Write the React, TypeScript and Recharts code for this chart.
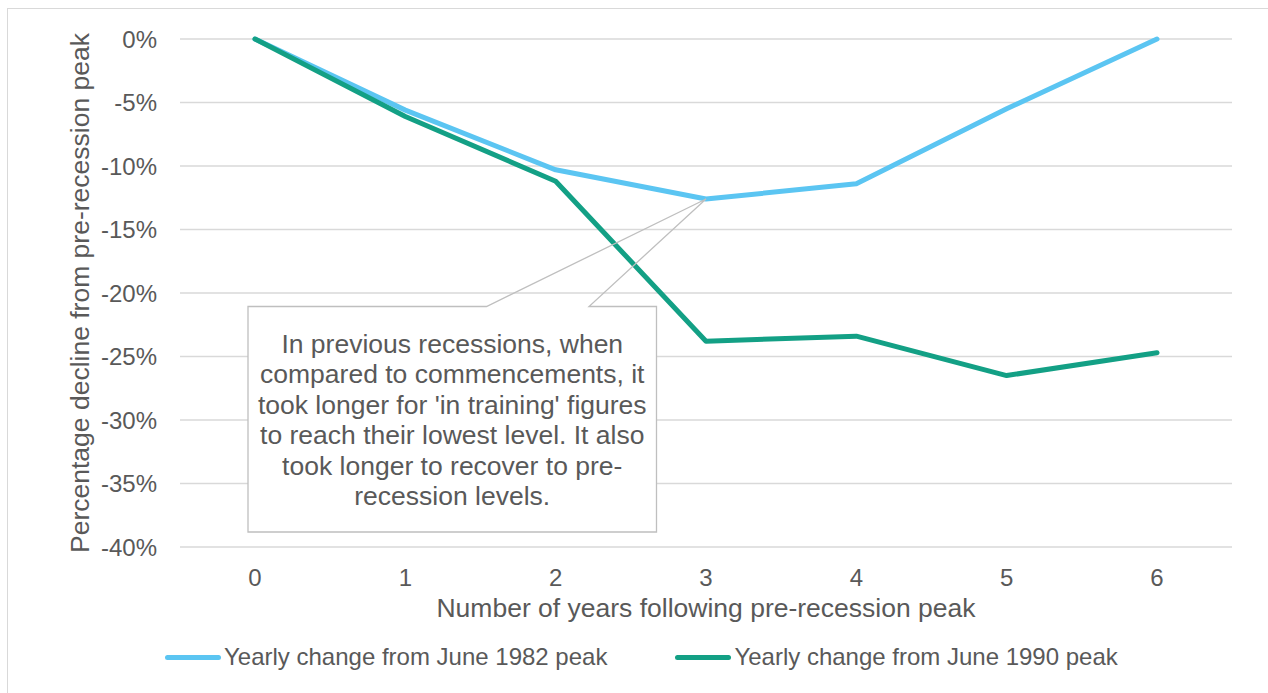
import { LineChart, Line, XAxis, YAxis, CartesianGrid, Legend, ReferenceDot } from 'recharts';

const years = [0, 1, 2, 3, 4, 5, 6];
const change1982 = [0, -5.6, -10.3, -12.6, -11.4, -5.5, 0];
const change1990 = [0, -6.1, -11.2, -23.8, -23.4, -26.5, -24.7];
const yTicks = [0, -5, -10, -15, -20, -25, -30, -35, -40];

const seriesNames = ['Yearly change from June 1982 peak', 'Yearly change from June 1990 peak'];
const seriesColors = ['#5BC5F2', '#13A085'];

const calloutLines = [
  'In previous recessions, when',
  'compared to commencements, it',
  "took longer for 'in training' figures",
  'to reach their lowest level. It also',
  'took longer to recover to pre-',
  'recession levels.',
];

const data = years.map((y, i) => ({ year: y, s1982: change1982[i], s1990: change1990[i] }));

const FONT = '"Liberation Sans", Arial, sans-serif';
const TEXT = '#595959';

// callout box with a wedge pointing at the 1982 low point
function Callout(props: any) {
  const { cx, cy } = props;
  const left = 248;
  const top = 306.5;
  const right = 656.5;
  const bottom = 532;
  const wl = 486.5;
  const wr = 589;
  return (
    <g>
      <rect x={left} y={top} width={right - left} height={bottom - top} fill="#fff" stroke="none" />
      <path
        d={`M${wl},${top} L${left},${top} L${left},${bottom} L${right},${bottom} L${right},${top} L${wr},${top} L${cx},${cy} Z`}
        fill="none"
        stroke="#BFBFBF"
        strokeWidth={1.3}
        strokeLinejoin="miter"
      />
      <text x={(left + right) / 2} y={353} textAnchor="middle" fontFamily={FONT} fontSize={26.5} fill={TEXT}>
        {calloutLines.map((l, i) => (
          <tspan key={i} x={(left + right) / 2} y={353 + i * 30.4}>
            {l}
          </tspan>
        ))}
      </text>
    </g>
  );
}

function LegendContent() {
  return (
    <div style={{ display: 'flex', alignItems: 'center', height: 30, paddingLeft: 95, fontFamily: FONT, fontSize: 24, color: TEXT }}>
      {seriesNames.map((name, i) => (
        <div key={name} style={{ display: 'flex', alignItems: 'center', marginRight: 68 }}>
          <div style={{ width: 56, height: 5, borderRadius: 3, background: seriesColors[i], marginRight: 3 }} />
          <span style={{ whiteSpace: 'nowrap' }}>{name}</span>
        </div>
      ))}
    </div>
  );
}

export default function App() {
  return (
    <div style={{ position: 'fixed', left: 0, top: 0, width: 1268, height: 693, overflow: 'hidden', background: '#fff' }}>
      <div style={{ position: 'absolute', left: 7, top: 8, width: 1400, height: 800, border: '1.5px solid #D9D9D9' }} />
      <div style={{ position: 'absolute', left: 0, top: 0 }}>
        <LineChart width={1268} height={693} data={data} margin={{ top: 39, right: 36, left: 70, bottom: 21 }}>
          <CartesianGrid horizontal vertical={false} stroke="#D9D9D9" strokeWidth={1.5} />
          <XAxis
            dataKey="year"
            type="category"
            height={95}
            padding={{ left: 75, right: 75 }}
            axisLine={false}
            tickLine={false}
            tickSize={0}
            tickMargin={22}
            tick={{ fontSize: 24, fill: TEXT, fontFamily: FONT }}
            label={{
              value: 'Number of years following pre-recession peak',
              position: 'insideBottom',
              offset: 25,
              style: { fontSize: 26.5, fill: TEXT, fontFamily: FONT },
            }}
          />
          <YAxis
            width={110}
            domain={[-40, 0]}
            ticks={yTicks}
            interval={0}
            axisLine={false}
            tickLine={false}
            tickSize={0}
            tickMargin={23}
            tickFormatter={(v: number) => `${v}%`}
            tick={{ fontSize: 24, fill: TEXT, fontFamily: FONT }}
            label={{
              value: 'Percentage decline from pre-recession peak',
              angle: -90,
              position: 'insideLeft',
              offset: 10,
              style: { fontSize: 26.5, fill: TEXT, fontFamily: FONT, textAnchor: 'middle' },
            }}
          />
          <Legend verticalAlign="bottom" content={<LegendContent />} />
          <ReferenceDot x={3} y={change1982[3]} r={1} shape={<Callout />} />
          <Line
            type="linear"
            dataKey="s1982"
            name={seriesNames[0]}
            stroke={seriesColors[0]}
            strokeWidth={5}
            strokeLinecap="round"
            strokeLinejoin="round"
            dot={false}
            activeDot={false}
            isAnimationActive={false}
          />
          <Line
            type="linear"
            dataKey="s1990"
            name={seriesNames[1]}
            stroke={seriesColors[1]}
            strokeWidth={5}
            strokeLinecap="round"
            strokeLinejoin="round"
            dot={false}
            activeDot={false}
            isAnimationActive={false}
          />
        </LineChart>
      </div>
    </div>
  );
}
